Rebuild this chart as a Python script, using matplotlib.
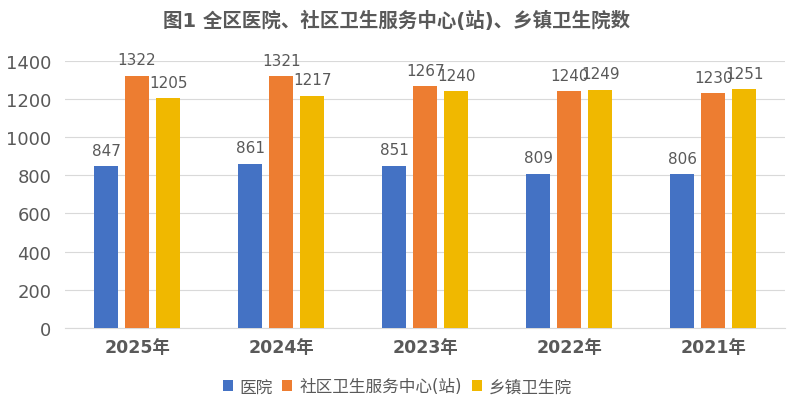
import matplotlib
matplotlib.use("Agg")
import matplotlib.pyplot as plt
import numpy as np

plt.rcParams['font.family'] = ['DejaVu Sans', 'Noto Sans CJK SC']

# data
years = ['2025年', '2024年', '2023年', '2022年', '2021年']
hospitals = [847, 861, 851, 809, 806]
community_centers = [1322, 1321, 1267, 1240, 1230]
township_hospitals = [1205, 1217, 1240, 1249, 1251]
series_names = ['医院', '社区卫生服务中心(站)', '乡镇卫生院']
colors = ['#4472C4', '#ED7D31', '#F0B800']

grey = '#595959'

fig = plt.figure(figsize=(7.94, 4.10), dpi=100)
ax = fig.add_axes([0.082, 0.198, 0.907, 0.651])

x = np.arange(len(years))
width = 0.167
step = 0.215
series = [hospitals, community_centers, township_hospitals]

for i, (vals, name, c) in enumerate(zip(series, series_names, colors)):
    bars = ax.bar(x + (i - 1) * step, vals, width, color=c, label=name, zorder=3)
    for b, v in zip(bars, vals):
        ax.annotate(str(v), (b.get_x() + b.get_width() / 2, v),
                    xytext=(0, 6), textcoords='offset points',
                    ha='center', va='bottom', fontsize=11, color=grey)

ax.set_xlim(-0.5, len(years) - 0.5)
ax.set_ylim(0, 1400)
ax.set_yticks(range(0, 1401, 200))
ax.yaxis.grid(True, color='#D9D9D9', linewidth=0.8, zorder=0)
ax.set_axisbelow(True)

for s in ['top', 'right', 'left']:
    ax.spines[s].set_visible(False)
ax.spines['bottom'].set_color('#D9D9D9')

ax.set_xticks(x)
ax.set_xticklabels(years, fontsize=12.5, fontweight='bold', color=grey)
ax.tick_params(axis='x', length=0, pad=7)
ax.tick_params(axis='y', length=0, labelsize=13, labelcolor=grey, pad=10)

fig.text(0.5, 0.95, '图1 全区医院、社区卫生服务中心(站)、乡镇卫生院数',
         ha='center', va='center', fontsize=14, fontweight='bold', color=grey)

fig.legend(loc='center', bbox_to_anchor=(0.5, 0.055), ncol=3, frameon=False,
           fontsize=12, labelcolor=grey, handlelength=0.6, handleheight=0.6,
           handletextpad=0.4, columnspacing=0.6)

fig.savefig('out.png', dpi=100)
